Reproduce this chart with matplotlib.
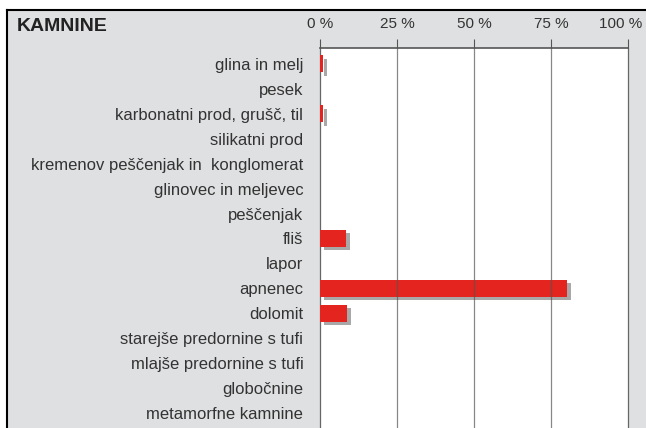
import matplotlib.pyplot as plt
from matplotlib.patches import Rectangle
from matplotlib.lines import Line2D
import matplotlib.transforms as mtransforms

categories = ['glina in melj', 'pesek', 'karbonatni prod, grušč, til', 'silikatni prod',
              'kremenov peščenjak in  konglomerat', 'glinovec in meljevec', 'peščenjak',
              'fliš', 'lapor', 'apnenec', 'dolomit', 'starejše predornine s tufi',
              'mlajše predornine s tufi', 'globočnine', 'metamorfne kamnine']
values = [1.0, 0, 1.0, 0, 0, 0, 0, 8.4, 0, 80.2, 8.7, 0, 0, 0, 0]
ticks = [0, 25, 50, 75, 100]
tick_labels = ['0 %', '25 %', '50 %', '75 %', '100 %']

font = 'Liberation Sans'
W, H = 646, 428
fig = plt.figure(figsize=(W / 100, H / 100), dpi=100, facecolor='white')

# grey panel with black frame on top and left
fig.patches.append(Rectangle((7 / W, 0), 1, 1 - 10 / H, transform=fig.transFigure,
                             facecolor='#dfe0e1', edgecolor='none', zorder=-1))
fig.lines.append(Line2D([7 / W, 1], [1 - 10 / H, 1 - 10 / H], transform=fig.transFigure,
                        color='black', lw=1.5, zorder=1))
fig.lines.append(Line2D([7 / W, 7 / W], [0, 1 - 10 / H], transform=fig.transFigure,
                        color='black', lw=1.5, zorder=1))

ax = fig.add_axes([320 / W, 0, (628 - 320) / W, (428 - 48) / H])
ax.set_facecolor('white')

y = list(range(len(categories)))
# drop shadow then red bar
ax.barh([i + 0.13 for i in y], values, left=1.3, height=0.68, color='#a8a8a8', zorder=2,
        linewidth=0)
ax.barh(y, values, height=0.68, color='#e3241f', zorder=3, linewidth=0)

for t in [25, 50, 75]:
    ax.axvline(t, color='#555555', lw=0.9, alpha=0.7, zorder=4)

ax.set_xlim(0, 100)
ax.set_ylim(14.6, -0.64)
ax.set_yticks(y)
ax.set_yticklabels(categories, fontfamily=font, fontsize=12, color='#333333')
ax.tick_params(axis='y', length=0, pad=12)

ax.xaxis.tick_top()
ax.set_xticks(ticks)
ax.set_xticklabels(tick_labels, fontfamily=font, fontsize=11, color='#333333')
ax.tick_params(axis='x', length=6.5, width=0.8, color='#555555', pad=6, direction='out')
last = ax.get_xticklabels()[-1]
last.set_transform(last.get_transform() + mtransforms.ScaledTranslation(-0.07, 0, fig.dpi_scale_trans))

for side in ['left', 'right']:
    ax.spines[side].set_color('#666666')
    ax.spines[side].set_linewidth(0.9)
ax.spines['top'].set_color('#555555')
ax.spines['top'].set_linewidth(1.2)
ax.spines['bottom'].set_visible(False)

fig.text(17 / W, 1 - 31 / H, 'KAMNINE', fontfamily=font, fontweight='bold',
         fontsize=14, color='#222222', va='baseline')

fig.savefig('out.png', dpi=100, facecolor='white')
